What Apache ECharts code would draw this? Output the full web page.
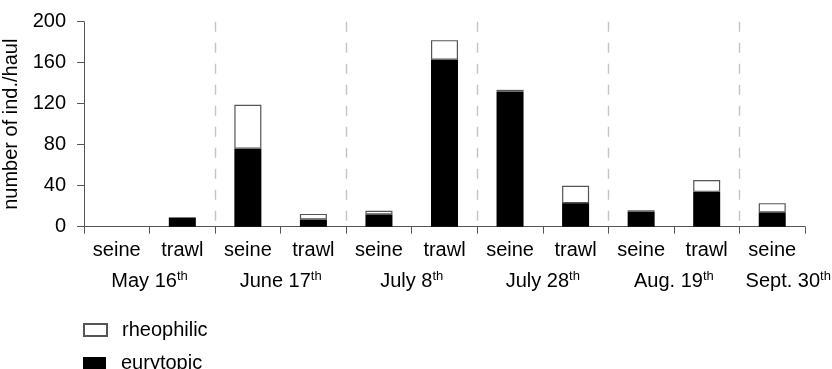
<!DOCTYPE html>
<html>
<head>
<meta charset="utf-8">
<script src="https://cdn.jsdelivr.net/npm/echarts@6/dist/echarts.min.js"></script>
<style>
  html, body { margin: 0; padding: 0; background: #fff; }
  #chart { width: 832px; height: 369px; }
</style>
</head>
<body>
<div id="chart"></div>
<script>
// Sampling dates and gear per haul
const dates   = ['May 16', 'May 16', 'June 17', 'June 17', 'July 8', 'July 8',
                 'July 28', 'July 28', 'Aug. 19', 'Aug. 19', 'Sept. 30'];
const methods = ['seine', 'trawl', 'seine', 'trawl', 'seine', 'trawl',
                 'seine', 'trawl', 'seine', 'trawl', 'seine'];

// Catch per haul (number of individuals)
const eurytopic   = [0, 9, 76, 7, 12, 163, 132, 23, 14.5, 34, 14];
const rheophilic  = [0, 0, 43, 5.5, 3.5, 19, 1.5, 17, 1.5, 11.5, 9];

const yTicks = { min: 0, max: 200, interval: 40 };

const FONT = '"Liberation Sans", Arial, Helvetica, sans-serif';
const AXIS_COLOR = '#555';

// unique category keys
const cats = methods.map((m, i) => i + '|' + m);

// half-step axis used to centre each date under its group of hauls
const dateSlots = new Array(cats.length * 2 + 1).fill('');
(function () {
  let start = 0;
  for (let i = 1; i <= dates.length; i++) {
    if (i === dates.length || dates[i] !== dates[start]) {
      dateSlots[2 * start + (i - start)] = dates[start];
      start = i;
    }
  }
})();
const superscript = { 'May 16': 'th', 'June 17': 'th', 'July 8': 'th',
                      'July 28': 'th', 'Aug. 19': 'th', 'Sept. 30': 'th' };

// group boundaries where the date changes
const isGroupStart = (i) => i > 0 && i < dates.length && dates[i] !== dates[i - 1];

// empty hauls draw no bar at all
const bars = (arr) => arr.map((v) => (v === 0 ? null : v));

const legendText = { fontFamily: FONT, fontSize: 20, lineHeight: 20, color: '#000', padding: [0, 0, 0, 10] };

const chart = echarts.init(document.getElementById('chart'), null, { renderer: 'canvas' });

chart.setOption({
  animation: false,
  backgroundColor: '#fff',
  textStyle: { fontFamily: FONT },
  grid: { left: 84, right: 27, top: 21.7, bottom: 142.3, containLabel: false, outerBoundsMode: 'none' },
  legend: [
    {
      left: 78, top: 315, itemWidth: 23, itemHeight: 12, icon: 'rect',
      data: ['rheophilic'], textStyle: legendText, selectedMode: false
    },
    {
      left: 78, top: 348, itemWidth: 23, itemHeight: 12, icon: 'rect',
      data: ['eurytopic'], textStyle: legendText, selectedMode: false
    }
  ],
  xAxis: [
    {
      type: 'category',
      data: cats,
      position: 'bottom',
      axisLine: { lineStyle: { color: AXIS_COLOR, width: 1 } },
      axisTick: { show: true, length: 7, lineStyle: { color: AXIS_COLOR } },
      axisLabel: {
        interval: 0,
        margin: 14,
        fontFamily: FONT,
        fontSize: 20,
        color: '#000',
        formatter: (v) => v.split('|')[1]
      },
      splitLine: {
        show: true,
        showMaxLine: false,
        interval: (i) => isGroupStart(i),
        lineStyle: { color: '#c4c4c4', width: 1.4, type: [10, 11] }
      }
    },
    {
      type: 'category',
      data: dateSlots,
      boundaryGap: false,
      position: 'bottom',
      offset: 29,
      axisLine: { show: false },
      axisTick: { show: false },
      splitLine: { show: false },
      axisLabel: {
        interval: 0,
        margin: 14,
        color: '#000',
        formatter: (v) => {
          if (!v) return '';
          const key = v === 'Sept. 30' ? 'e' : 'd';
          return '{' + key + '|' + v + '}{s|' + superscript[v] + '}';
        },
        rich: {
          d: { fontFamily: FONT, fontSize: 20, color: '#000', lineHeight: 22, verticalAlign: 'bottom' },
          e: { fontFamily: FONT, fontSize: 20, color: '#000', lineHeight: 22, verticalAlign: 'bottom', padding: [0, 0, 0, 32] },
          s: { fontFamily: FONT, fontSize: 13, color: '#000', lineHeight: 22, verticalAlign: 'top', padding: [0, 0, 9, 0] }
        }
      }
    }
  ],
  yAxis: {
    type: 'value',
    min: yTicks.min,
    max: yTicks.max,
    interval: yTicks.interval,
    name: 'number of ind./haul',
    nameLocation: 'middle',
    nameGap: 7,
    nameTextStyle: { fontFamily: FONT, fontSize: 20, color: '#000' },
    axisLine: { show: true, lineStyle: { color: AXIS_COLOR, width: 1 } },
    axisTick: { show: true, length: 7, lineStyle: { color: AXIS_COLOR } },
    axisLabel: { margin: 18, fontFamily: FONT, fontSize: 20, color: '#000' },
    splitLine: { show: false }
  },
  series: [
    {
      name: 'eurytopic',
      type: 'bar',
      stack: 'catch',
      barWidth: 27,
      data: bars(eurytopic),
      itemStyle: { color: '#000', borderColor: '#000', borderWidth: 0 }
    },
    {
      name: 'rheophilic',
      type: 'bar',
      stack: 'catch',
      barWidth: 27,
      data: bars(rheophilic),
      itemStyle: { color: '#fff', borderColor: '#555', borderWidth: 1.2 }
    }
  ]
});
</script>
</body>
</html>
